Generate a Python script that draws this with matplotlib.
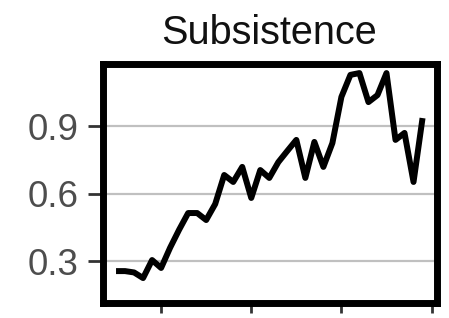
import matplotlib
matplotlib.use("Agg")
import matplotlib.pyplot as plt

# data
years = list(range(1985, 2020))
values = [0.256, 0.256, 0.25, 0.225, 0.305, 0.27, 0.36, 0.44, 0.514, 0.514,
          0.483, 0.554, 0.683, 0.652, 0.719, 0.581, 0.705, 0.67, 0.74, 0.79,
          0.839, 0.67, 0.83, 0.719, 0.825, 1.03, 1.128, 1.136, 1.007, 1.038,
          1.136, 0.839, 0.87, 0.652, 0.936]
x_ticks = [1990, 2000, 2010, 2020]
y_ticks = [0.3, 0.6, 0.9]
y_ticklabels = ["0.3", "0.6", "0.9"]
title = "Subsistence"

plt.rcParams["font.family"] = ["Liberation Sans", "DejaVu Sans"]

fig = plt.figure(figsize = (4.49, 3.18), dpi = 100)
ax = fig.add_axes([0.2283, 0.0456, 0.7439, 0.7547])

ax.plot(years, values, color = "k", linewidth = 4.3, solid_joinstyle = "round",
    solid_capstyle = "butt", zorder = 3)

ax.set_xlim(1983.5, 2020.55)
ax.set_ylim(0.112, 1.1785)

ax.set_xticks(x_ticks)
ax.set_xticklabels([""] * len(x_ticks))
ax.set_yticks(y_ticks)
ax.set_yticklabels(y_ticklabels)

ax.grid(axis = "y", color = "#c0c0c0", linewidth = 1.6, zorder = 1)
ax.grid(axis = "x", visible = False)

for s in ax.spines.values() :
    s.set_linewidth(5)
    s.set_color("k")

ax.tick_params(axis = "y", length = 11, width = 2, color = "#333333",
    labelcolor = "#4d4d4d", labelsize = 26.5, pad = 6)
ax.tick_params(axis = "x", length = 7, width = 2, color = "#333333")

ax.set_title(title, fontsize = 28.5, color = "#111111", pad = 14)

fig.savefig("out.png", dpi = 100)
